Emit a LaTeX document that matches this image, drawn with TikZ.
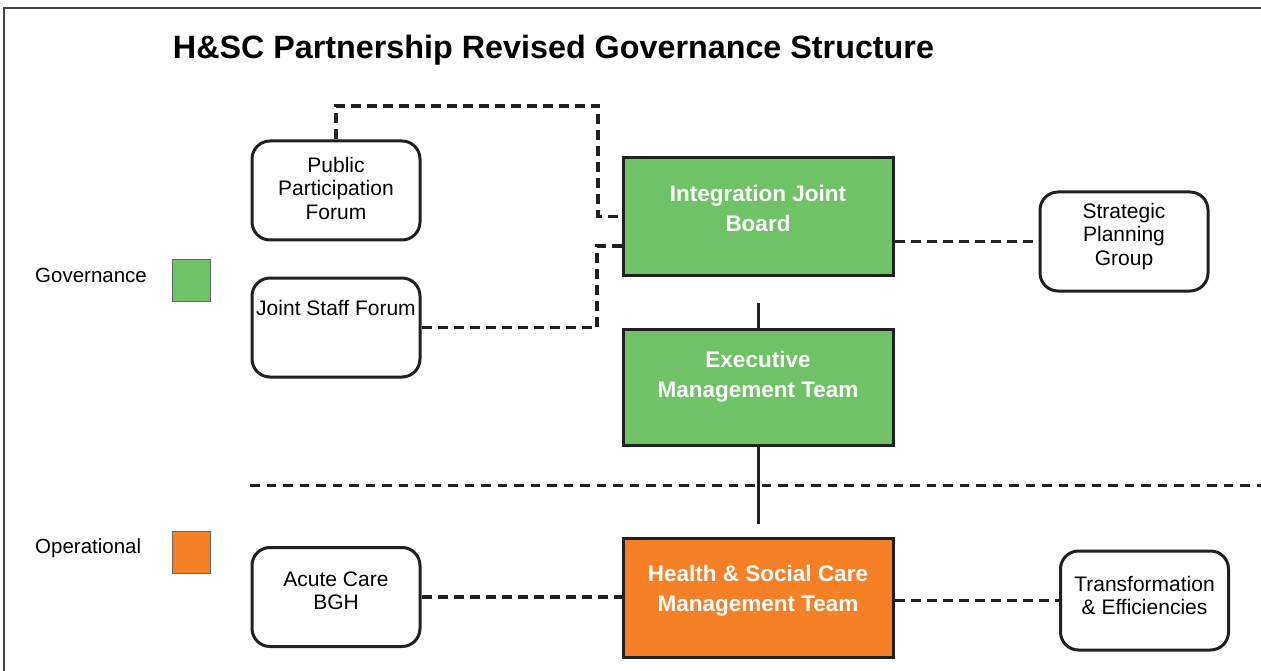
\documentclass[tikz,border=0pt]{standalone}
\usepackage{fontspec}
\setmainfont{Liberation Sans}
\definecolor{ink}{HTML}{231F20}
\definecolor{govgreen}{HTML}{70C267}
\definecolor{opsorange}{HTML}{F58025}
\begin{document}
\begin{tikzpicture}[x=1pt,y=-1pt]
	\tikzset{group/.style={draw=ink, line width=3pt, rounded corners=18pt, minimum width=168pt, minimum height=99pt, inner sep=0pt, align=center, font=\fontsize{21}{23.5}\selectfont}};
	\tikzset{team/.style={draw=ink, line width=3pt, minimum width=270pt, inner sep=0pt, align=center, text=white, font=\fontsize{22.5}{30}\selectfont\bfseries}};
	\tikzset{link/.style={ink, line width=3.3pt, dash pattern=on 10pt off 6pt}};
	\tikzset{key/.style={draw=ink!70, line width=1pt, minimum width=38pt, minimum height=42pt, inner sep=0pt}};
	\tikzset{legend/.style={anchor=west, inner sep=0pt, font=\fontsize{20.5}{24}\selectfont}};
	\useasboundingbox (0,0) rectangle (1261,671);

	\draw[ink!85, line width=1.5pt] (4,671) -- (4,8) -- (1261,8);
	\node[inner sep=0pt, font=\fontsize{32.3}{36}\selectfont\bfseries] (Title) at (553.5,50) {H\&SC Partnership Revised Governance Structure};

	\node[legend] (GovLabel) at (35,275) {Governance};
	\node[key, fill=govgreen] (GovKey) at (191,280) {};
	\node[legend] (OpsLabel) at (35,548) {Operational};
	\node[key, fill=opsorange] (OpsKey) at (191,552) {};

	\node[team, fill=govgreen, minimum height=117pt, text depth=16pt] (IJB) at (758,216.5) {Integration Joint\\Board};
	\node[team, fill=govgreen, minimum height=116pt, text depth=24.7pt] (EMT) at (758,387) {Executive\\Management Team};
	\node[team, fill=opsorange, minimum height=119pt, text depth=17.7pt] (HSC) at (758,597.5) {Health \& Social Care\\Management Team};

	\node[group, text depth=5pt] (PPF) at (336,190.5) {Public\\Participation\\Forum};
	\node[group, text height=15pt, text depth=39pt] (JSF) at (336,327.5) {Joint Staff Forum};
	\node[group, text depth=14.4pt] (SPG) at (1124,241.5) {Strategic\\Planning\\Group};
	\node[group, text depth=13pt] (ACB) at (336,597) {Acute Care\\BGH};
	\node[group, text depth=10pt] (TE) at (1144.5,600.5) {Transformation\\\& Efficiencies};

	\draw[ink, line width=3pt, shorten <=26pt] (IJB) -- (EMT);
	\draw[ink, line width=3pt, shorten >=13pt] (EMT) -- (HSC);
	\draw[ink, line width=3pt, dash pattern=on 9.5pt off 7pt] (250,485) -- (1261,485);

	\draw[link] (PPF.north) |- (598,106) |- (IJB.west);
	\draw[link] (JSF.east) -| (597,246) -- (IJB.west |- 0,246);
	\draw[link] (IJB.east |- SPG.west) -- (SPG.west);
	\draw[link] (ACB.east) -- (ACB.east -| HSC.west);
	\draw[link] (HSC.east |- TE.west) -- (TE.west);
\end{tikzpicture}
\end{document}
